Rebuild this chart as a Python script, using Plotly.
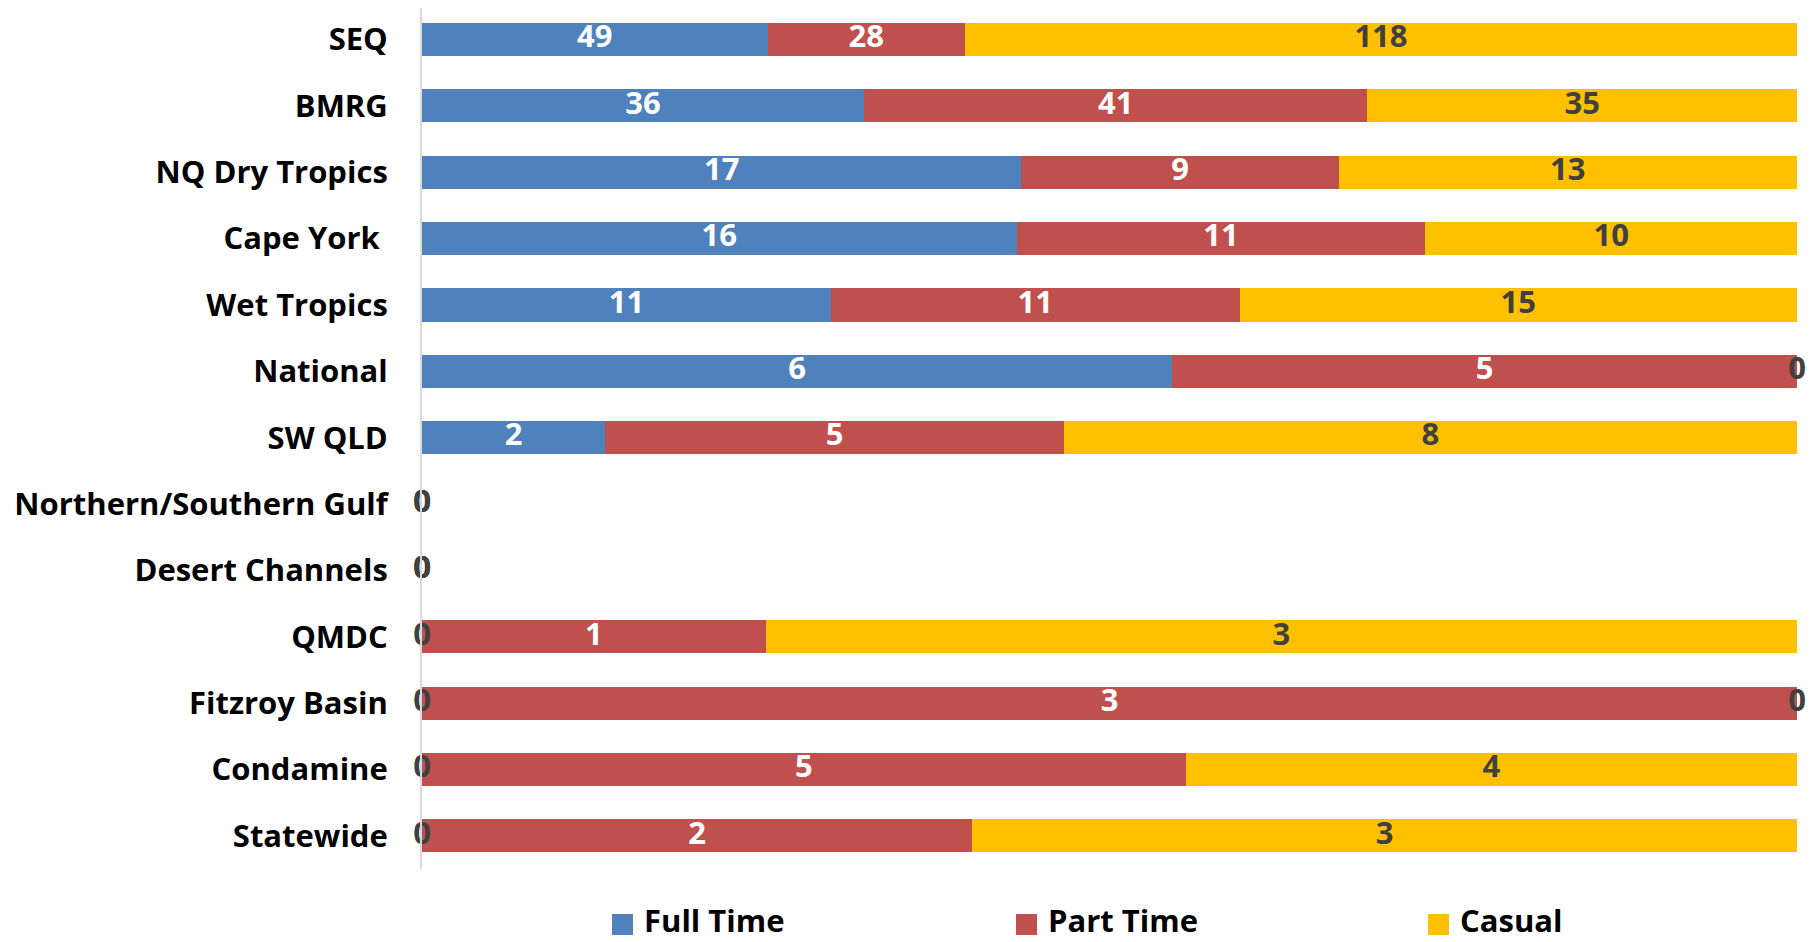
import plotly.graph_objects as go

categories = ["SEQ", "BMRG", "NQ Dry Tropics", "Cape York ", "Wet Tropics", "National",
              "SW QLD", "Northern/Southern Gulf", "Desert Channels", "QMDC",
              "Fitzroy Basin", "Condamine", "Statewide"]
full_time = [49, 36, 17, 16, 11, 6, 2, 0, 0, 0, 0, 0, 0]
part_time = [28, 41, 9, 11, 11, 5, 5, 0, 0, 1, 3, 5, 2]
casual = [118, 35, 13, 10, 15, 0, 8, 0, 0, 3, 0, 4, 3]

series_names = ["Full Time", "Part Time", "Casual"]
series_colors = ["#4F81BD", "#C0504D", "#FFC000"]
label_colors = ["white", "white", "#404040"]

FONT = "Open Sans, sans-serif"
FS = 31
W, H = 1818, 942
ML, MR, MT, MB = 414, 29, 0, 81
PW, PH = W - ML - MR, H - MT - MB

totals = [a + b + c for a, b, c in zip(full_time, part_time, casual)]
fig = go.Figure()
base = [0.0] * len(categories)
label_x, label_y, label_t, label_c = [], [], [], []
for name, vals, color, tcolor in zip(series_names, [full_time, part_time, casual],
                                     series_colors, label_colors):
    pct = [(v / t * 100) if t else 0 for v, t in zip(vals, totals)]
    fig.add_trace(go.Bar(name=name, y=categories, x=pct, base=base, orientation="h",
                         marker=dict(color=color, line=dict(width=0)),
                         hoverinfo="skip", showlegend=False))
    for i, (v, p) in enumerate(zip(vals, pct)):
        label_x.append(base[i] + p / 2)
        label_y.append(categories[i])
        label_t.append(str(v))
        label_c.append(tcolor if v != 0 else "#404040")
    base = [b + p for b, p in zip(base, pct)]

fig.add_trace(go.Scatter(x=label_x, y=label_y, mode="text", text=label_t,
                         textfont=dict(family=FONT, size=FS, color=label_c, weight=700),
                         textposition="middle center", showlegend=False,
                         hoverinfo="skip", cliponaxis=False))

# custom legend (keys + labels), positioned in pixels below the plot
legend_key_px = [604, 1008, 1420]
key_size = 21
key_top_px, key_text_px = 906, 912
def px_to_paper_x(px):
    return (px - ML) / PW
def px_to_paper_y(py):
    return (MT + PH - py) / PH

for name, color, kx in zip(series_names, series_colors, legend_key_px):
    fig.add_shape(type="rect", xref="paper", yref="paper",
                  x0=px_to_paper_x(kx), x1=px_to_paper_x(kx + key_size),
                  y0=px_to_paper_y(key_top_px + key_size), y1=px_to_paper_y(key_top_px),
                  fillcolor=color, line=dict(width=0))
    fig.add_annotation(text=name, xref="paper", yref="paper",
                       x=px_to_paper_x(kx + key_size + 9), y=px_to_paper_y(key_text_px),
                       xanchor="left", yanchor="middle", showarrow=False,
                       font=dict(family=FONT, size=FS, color="black", weight=700))

fig.update_layout(
    width=W, height=H,
    barmode="stack", bargap=0.5,
    plot_bgcolor="white", paper_bgcolor="white",
    margin=dict(l=ML, r=MR, t=MT, b=MB, autoexpand=False),
    font=dict(family=FONT, size=FS, color="black"),
    showlegend=False,
)
fig.update_xaxes(range=[0, 100], showticklabels=False, showgrid=False, zeroline=False,
                 showline=False)
fig.update_yaxes(range=[len(categories) - 0.5, -0.475], showgrid=False, showline=True,
                 linecolor="#D9D9D9", linewidth=2, ticks="", ticklabelstandoff=26,
                 tickfont=dict(family=FONT, size=FS, color="black", weight=700))

fig.write_html("out.html")
